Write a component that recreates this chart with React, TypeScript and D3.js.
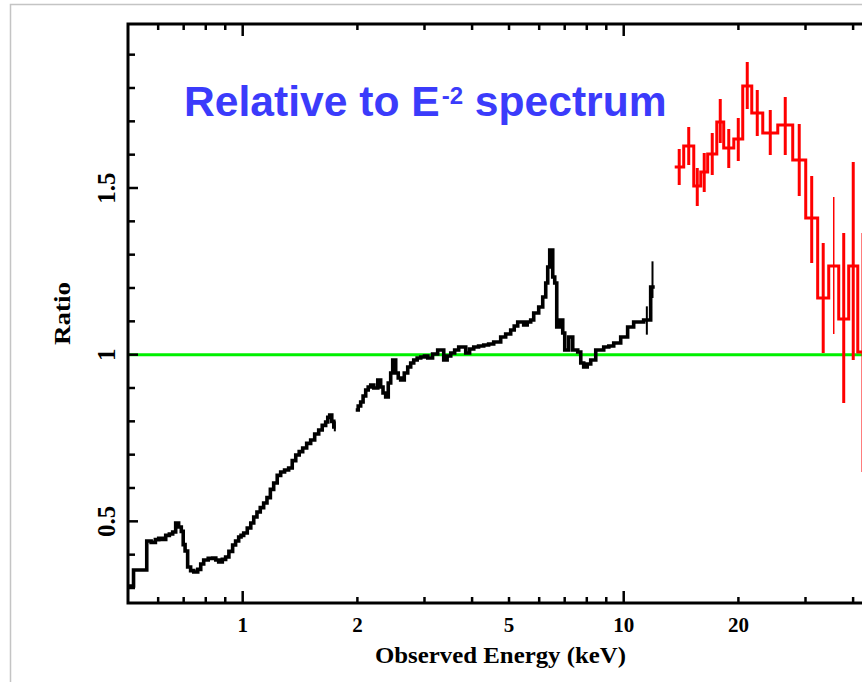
import React, { useEffect, useRef } from 'react'
import * as d3 from 'd3'

// black spectrum, two pieces (bin lower edge in keV, ratio); last edge closes the bin
const blackE1 = [0.502, 0.517, 0.56, 0.575, 0.59, 0.602, 0.615, 0.628, 0.642, 0.655, 0.667, 0.679, 0.69, 0.698, 0.706, 0.717, 0.73, 0.744, 0.762, 0.776, 0.79, 0.812, 0.834, 0.85, 0.865, 0.884, 0.902, 0.92, 0.941, 0.958, 0.976, 0.99, 1.006, 1.028, 1.05, 1.069, 1.09, 1.112, 1.135, 1.158, 1.182, 1.206, 1.232, 1.258, 1.288, 1.32, 1.349, 1.378, 1.407, 1.437, 1.472, 1.508, 1.545, 1.583, 1.617, 1.651, 1.672, 1.692, 1.713, 1.734, 1.755]
const blackR1 = [0.306, 0.354, 0.441, 0.437, 0.445, 0.449, 0.446, 0.458, 0.462, 0.468, 0.495, 0.483, 0.47, 0.43, 0.411, 0.363, 0.352, 0.348, 0.356, 0.372, 0.384, 0.389, 0.39, 0.384, 0.378, 0.386, 0.393, 0.41, 0.429, 0.441, 0.453, 0.458, 0.465, 0.48, 0.495, 0.513, 0.528, 0.541, 0.555, 0.571, 0.596, 0.615, 0.638, 0.648, 0.654, 0.66, 0.682, 0.699, 0.709, 0.72, 0.734, 0.744, 0.762, 0.774, 0.788, 0.798, 0.812, 0.819, 0.8, 0.783]
const blackE2 = [1.98, 2.01, 2.04, 2.07, 2.103, 2.135, 2.168, 2.208, 2.262, 2.302, 2.335, 2.373, 2.41, 2.446, 2.476, 2.521, 2.56, 2.598, 2.655, 2.711, 2.76, 2.811, 2.87, 2.933, 3.0, 3.06, 3.15, 3.249, 3.37, 3.44, 3.516, 3.6, 3.689, 3.849, 3.94, 4.04, 4.16, 4.291, 4.42, 4.558, 4.755, 4.9, 5.051, 5.16, 5.27, 5.464, 5.58, 5.7, 5.805, 5.983, 6.13, 6.242, 6.318, 6.395, 6.512, 6.591, 6.672, 6.793, 6.918, 7.002, 7.173, 7.349, 7.574, 7.714, 7.852, 8.02, 8.193, 8.445, 8.862, 9.14, 9.414, 9.82, 10.24, 10.62, 11.28, 11.77, 12.06]
const blackR2 = [0.834, 0.846, 0.858, 0.876, 0.894, 0.903, 0.909, 0.9, 0.924, 0.903, 0.885, 0.873, 0.915, 0.945, 0.984, 0.945, 0.93, 0.924, 0.945, 0.963, 0.975, 0.984, 0.99, 0.993, 0.996, 0.99, 1.002, 1.014, 0.984, 0.996, 1.005, 1.014, 1.023, 1.005, 1.017, 1.023, 1.026, 1.029, 1.032, 1.038, 1.053, 1.062, 1.074, 1.086, 1.098, 1.089, 1.098, 1.104, 1.125, 1.143, 1.173, 1.215, 1.263, 1.314, 1.233, 1.215, 1.083, 1.104, 1.065, 1.014, 1.053, 1.014, 1.008, 0.975, 0.963, 0.972, 0.984, 1.014, 1.023, 1.026, 1.035, 1.053, 1.083, 1.098, 1.104, 1.203]
const blackErrE = [1.745, 11.5, 11.9]
const blackErrLo = [0.77, 1.06, 1.17]
const blackErrHi = [0.8, 1.145, 1.28]

// red spectrum: bin edges (keV), ratio, error range
const redE = [13.61, 14.37, 15.27, 15.93, 16.61, 17.55, 18.3, 19.45, 20.53, 21.68, 23.17, 25.37, 27.77, 30.04, 32.29, 34.52, 36.67, 38.95, 41.14, 43.43]
const redR = [1.563, 1.626, 1.506, 1.548, 1.602, 1.698, 1.62, 1.647, 1.806, 1.725, 1.665, 1.689, 1.584, 1.41, 1.17, 1.266, 1.107, 1.266, 1.008]
const redLo = [1.509, 1.569, 1.446, 1.488, 1.539, 1.635, 1.56, 1.581, 1.737, 1.656, 1.599, 1.599, 1.476, 1.275, 1.005, 1.062, 0.855, 0.984, 0.648]
const redHi = [1.617, 1.683, 1.56, 1.605, 1.665, 1.767, 1.677, 1.71, 1.878, 1.794, 1.734, 1.773, 1.692, 1.536, 1.335, 1.473, 1.365, 1.578, 1.365]
const redThin = [15, 18]

const xMajor = [1, 10]
const xMinor = [0.6, 0.7, 0.8, 0.9, 2, 3, 4, 5, 6, 7, 8, 9, 20, 30, 40]
const xTickLabels = [1, 2, 5, 10, 20]
const yMajor = [0.5, 1, 1.5]
const yMinor = [0.3, 0.4, 0.6, 0.7, 0.8, 0.9, 1.1, 1.2, 1.3, 1.4, 1.6, 1.7, 1.8, 1.9]
const yTickLabels = ['0.5', '1', '1.5']

const W = 862, H = 682

export default function App() {
  const ref = useRef<SVGSVGElement>(null)

  useEffect(() => {
    const svg = d3.select(ref.current)
    svg.selectAll('*').remove()

    const left = 128, right = 872.6, top = 24, bottom = 603
    const x = d3.scaleLog().domain([0.5, 45]).range([left, right])
    const y = d3.scaleLinear().domain([0.255, 1.992]).range([bottom, top])
    const serif = '"Liberation Serif", "Times New Roman", serif'

    // outer grey frame
    svg.append('path')
      .attr('d', `M10.5,${H} L10.5,4.5 L${W},4.5`)
      .attr('fill', 'none').attr('stroke', '#c4c4c4').attr('stroke-width', 1.5)

    // unity line
    svg.append('line')
      .attr('x1', left).attr('x2', right).attr('y1', y(1)).attr('y2', y(1))
      .attr('stroke', '#00f000').attr('stroke-width', 3)

    const step = d3.line<[number, number]>()
      .x(d => x(d[0])).y(d => y(d[1]))
      .curve(d3.curveStepAfter)

    const pts = (E: number[], R: number[]) => {
      const p: [number, number][] = R.map((r, i) => [E[i], r])
      p.push([E[E.length - 1], R[R.length - 1]])
      return p
    }

    const g = svg.append('g')
    ;[[blackE1, blackR1], [blackE2, blackR2]].forEach(([E, R]) => {
      g.append('path')
        .attr('d', step(pts(E, R)))
        .attr('fill', 'none').attr('stroke', '#000').attr('stroke-width', 3.6)
    })
    blackErrE.forEach((e, i) => {
      g.append('line')
        .attr('x1', x(e)).attr('x2', x(e))
        .attr('y1', y(blackErrLo[i])).attr('y2', y(blackErrHi[i]))
        .attr('stroke', '#000').attr('stroke-width', 2)
    })

    // red histogram + error bars
    redR.forEach((r, i) => {
      const xc = x(Math.sqrt(redE[i] * redE[i + 1]))
      const thin = redThin.includes(i)
      g.append('line')
        .attr('x1', xc).attr('x2', xc)
        .attr('y1', y(redLo[i])).attr('y2', y(redHi[i]))
        .attr('stroke', '#ff0000').attr('stroke-width', thin ? 1.5 : 3)
    })
    g.append('path')
      .attr('d', step(pts(redE, redR)))
      .attr('fill', 'none').attr('stroke', '#ff0000').attr('stroke-width', 3)

    // frame and ticks
    const ax = svg.append('g').attr('stroke', '#000')
    ax.append('rect')
      .attr('x', left).attr('y', top).attr('width', right - left).attr('height', bottom - top)
      .attr('fill', 'none').attr('stroke-width', 3)
    const xt = (vals: number[], len: number) => vals.forEach(v => {
      ax.append('line').attr('x1', x(v)).attr('x2', x(v)).attr('y1', bottom).attr('y2', bottom - len).attr('stroke-width', 2.5)
      ax.append('line').attr('x1', x(v)).attr('x2', x(v)).attr('y1', top).attr('y2', top + len).attr('stroke-width', 2.5)
    })
    xt(xMajor, 12)
    xt(xMinor, 6)
    const yt = (vals: number[], len: number) => vals.forEach(v => {
      ax.append('line').attr('x1', left).attr('x2', left + len).attr('y1', y(v)).attr('y2', y(v)).attr('stroke-width', 2.5)
      ax.append('line').attr('x1', right).attr('x2', right - len).attr('y1', y(v)).attr('y2', y(v)).attr('stroke-width', 2.5)
    })
    yt(yMajor, 10)
    yt(yMinor, 7)

    // tick labels
    svg.append('g').selectAll('text').data(xTickLabels).enter().append('text')
      .attr('x', d => x(d)).attr('y', 632)
      .attr('text-anchor', 'middle')
      .attr('font-family', serif).attr('font-weight', 'bold').attr('font-size', 21)
      .text(d => d)
    svg.append('g').selectAll('text').data(yTickLabels).enter().append('text')
      .attr('transform', d => `translate(115,${y(+d)}) rotate(-90)`)
      .attr('text-anchor', 'middle')
      .attr('font-family', serif).attr('font-weight', 'bold').attr('font-size', 25)
      .text(d => d)

    // axis titles
    svg.append('text')
      .attr('x', 375).attr('y', 663)
      .attr('textLength', 251).attr('lengthAdjust', 'spacingAndGlyphs')
      .attr('font-family', serif).attr('font-weight', 'bold').attr('font-size', 24)
      .text('Observed Energy (keV)')
    svg.append('text')
      .attr('transform', `translate(70,${(top + bottom) / 2}) rotate(-90)`)
      .attr('text-anchor', 'middle')
      .attr('textLength', 63).attr('lengthAdjust', 'spacingAndGlyphs')
      .attr('font-family', serif).attr('font-weight', 'bold').attr('font-size', 24)
      .text('Ratio')
  }, [])

  return (
    <div style={{ position: 'absolute', left: 0, top: 0 }}>
      <svg ref={ref} width={W} height={H} style={{ display: 'block', background: '#fff' }} />
      <svg width={W} height={H} style={{ position: 'absolute', left: 0, top: 0 }}>
        <text x={184} y={116} fill="#3b3bfb" fontFamily='"Liberation Sans", Arial, sans-serif'
          fontWeight="bold" fontSize={42.6}>
          Relative to E
          <tspan fontSize={24} dx={2} dy={-12}>-2</tspan>
          <tspan dy={12}>{' spectrum'}</tspan>
        </text>
      </svg>
    </div>
  )
}
